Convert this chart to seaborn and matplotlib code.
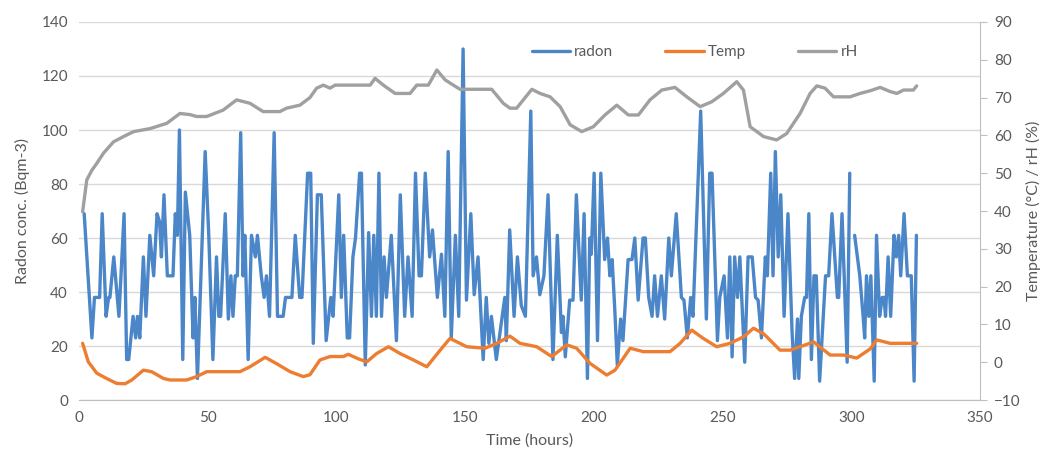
import numpy as np
import pandas as pd
import matplotlib
matplotlib.use("Agg")
import matplotlib.pyplot as plt
import seaborn as sns
from matplotlib.lines import Line2D

# radon readings (hour, Bq/m3), gap of missing data after ~300 h
radon_hours_a = [2, 5, 6, 8, 9, 10.5, 11.5, 12, 13.5, 15.5, 17.5, 18.5, 19.3, 21, 22, 22.7, 23.6,
                 25, 26, 27.5, 29, 30.3, 31.3, 32, 33, 34.3, 36.5, 37.4, 38.2, 39, 40.3, 41.3, 43,
                 44.3, 45, 46, 47.5, 49, 50.4, 52, 53.4, 54.3, 55, 56.8, 58, 59, 59.8, 60.7, 61.5,
                 62.8, 63.7, 64.4, 65.7, 67, 68.5, 69.3, 70.8, 71.9, 72.8, 74, 75.8, 77.1, 79.3,
                 80.2, 82.7, 84, 85.7, 86.6, 88.8, 90, 91, 92.6, 94.1, 96, 97.8, 98.7, 100.9, 101.9,
                 102.8, 104.2, 105.1, 106.4, 107.4, 109, 109.7, 111.2, 112.5, 113.6, 114.5, 115.5,
                 116.5, 117.5, 118.5, 119.4, 121.3, 123.3, 124.8, 126.5, 127.8, 129.4, 130.7, 132.1,
                 133, 134.5, 136.2, 137.3, 139.2, 140.8, 142.1, 143.4, 144.6, 146.2, 147.5, 149.2,
                 150.5, 152.2, 153.5, 155, 157, 158.2, 159.2, 160.2, 162.1, 165.4, 166, 167.3, 169,
                 170.3, 171.8, 173.4, 175.5, 176.4, 177.7, 179, 180.6, 182.2, 184.1, 185.8, 187.4,
                 188, 188.9, 190.6, 191.9, 193.2, 195.1, 196.2, 197.5, 198.4, 199, 200.1, 201.4,
                 202.7, 204.2, 205.3, 206.2, 207.1, 208.1, 209.1, 210.4, 211.3, 213.3, 214.8, 215.9,
                 217.2, 219.1, 220, 221.3, 222.6, 223.6, 224.7, 226.2, 227.5, 229.1, 230.1, 232,
                 234, 235, 236.3, 237.6, 238.5, 241.5, 243.7, 245, 245.9, 248, 248.9, 250.6, 251.9,
                 252.8, 253.7, 254.7, 255.8, 256.7, 258.6, 259.9, 261.5, 262.8, 263.8, 265.1, 266.6,
                 267.4, 268.7, 269.6, 270.5, 271.6, 272.6, 273.9, 275.4, 277, 278, 279.1, 279.6,
                 280.6, 281.9, 282.6, 283.5, 284.5, 285.5, 286.4, 287.7, 290, 291.2, 292.5, 293.6,
                 294.6, 295.1, 296.4, 298.4, 299.4]
radon_vals_a = [69, 23, 38, 38, 69, 31, 38, 38, 53, 31, 69, 15, 15, 31, 23, 31, 23,
                53, 31, 61, 46, 69, 66, 53, 76, 46, 46, 69, 61, 100, 15, 77, 61,
                23, 38, 8, 50, 92, 61, 15, 53, 31, 31, 69, 30, 46, 31, 46, 46,
                99, 46, 61, 15, 61, 53, 61, 46, 38, 46, 31, 99, 31, 31,
                38, 38, 61, 38, 38, 84, 84, 21, 76, 76, 22, 38, 31, 76, 38,
                61, 23, 23, 53, 60, 84, 84, 13, 62, 31, 61, 31,
                84, 31, 53, 38, 61, 22, 76, 31, 53, 31, 84, 46,
                46, 84, 53, 63, 38, 54, 31, 92, 23, 61, 31, 130,
                37, 69, 39, 53, 15, 38, 21, 31, 15, 38, 22, 63, 31,
                53, 35, 31, 107, 46, 53, 39, 46, 76, 15, 61, 25,
                31, 16, 37, 37, 76, 37, 69, 8, 60, 54, 84, 22,
                84, 52, 60, 46, 52, 34, 13, 30, 22, 52, 52, 60,
                37, 60, 60, 38, 31, 46, 31, 46, 30, 60, 46, 69,
                38, 37, 23, 38, 31, 107, 30, 84, 84, 22, 38, 46, 23,
                53, 16, 53, 38, 53, 14, 53, 53, 38, 37, 23, 53,
                46, 84, 46, 92, 53, 76, 31, 69, 25, 8, 30, 8,
                31, 38, 38, 69, 15, 46, 46, 7, 46, 46, 69, 53,
                38, 38, 69, 14, 84]
radon_hours_b = [301.3, 303.3, 304.6, 305.2, 305.9, 306.8, 307.6, 308.9, 309.8, 311, 312, 312.7,
                 313.3, 314.3, 315.3, 316.6, 317.5, 318.4, 319.2, 320.5, 321.8, 323.3, 324.4, 325.3]
radon_vals_b = [61, 46, 31, 23, 46, 31, 46, 7, 61, 31, 38, 38,
                31, 53, 31, 61, 53, 61, 46, 69, 46, 46, 7, 61]

# temperature (degC)
temp_hours = [1.4, 3.6, 6.9, 10.7, 14.6, 17.9, 20.5, 25, 28.2, 32.8, 35.4, 41.8, 45.7, 49.6, 62.5,
              66.4, 72.3, 76.8, 82, 87.1, 89.7, 93.6, 97.5, 102.7, 104.6, 108.5, 111.8, 115.6,
              120.2, 124.7, 129.9, 135.1, 140.3, 144.1, 150.6, 157.7, 162.3, 167.4, 171.3, 177.8,
              183.6, 189.5, 193.3, 198.5, 205, 208.2, 214.1, 219.2, 229.6, 233.5, 238, 242.5,
              247.7, 252.9, 258.1, 262, 266, 272.3, 276.2, 281.4, 285.3, 291.8, 297, 302.1,
              307.3, 309.9, 315.1, 325.4]
temp_vals = [5.0, 0.1, -2.9, -4.3, -5.6, -5.7, -4.7, -2.1, -2.5, -4.3, -4.7, -4.7, -3.8, -2.5, -2.5,
             -1.2, 1.3, -0.4, -2.5, -3.8, -3.3, 0.6, 1.5, 1.5, 2.1, 0.9, 0.1, 2.3,
             4.1, 2.3, 0.6, -1.2, 3.2, 6.3, 4.1, 3.7, 5.0, 6.9, 5.0, 4.1,
             1.5, 4.6, 3.7, -0.3, -3.4, -2.1, 3.7, 2.8, 2.8, 5.0, 8.5, 6.3,
             4.1, 5.0, 6.7, 9.0, 7.5, 3.2, 3.2, 4.4, 5.4, 1.9, 1.9, 1.1,
             3.5, 5.9, 5.0, 5.0]

# relative humidity (%)
rh_hours = [1.4, 3, 5, 6.9, 9.5, 13.4, 17.3, 21.2, 27.6, 34.1, 39.2, 43.1, 45.7, 49.6, 56, 61.2,
            66.4, 71.5, 78, 80.6, 85.8, 89.7, 92.3, 94.9, 97.5, 99.5, 113.1, 115, 118.2, 122.8,
            128.6, 131.2, 135.7, 139, 142.2, 145.4, 148, 160.3, 164.8, 167.4, 170, 175.9, 179.1,
            183, 186.9, 190.8, 195.3, 199.8, 204.3, 208.9, 213.4, 217.3, 221.8, 226.4, 231.5,
            236.1, 241.3, 245.8, 250.3, 255.5, 258.1, 260.7, 265.9, 271, 274.9, 280.1, 284,
            286.6, 289.8, 293.1, 299.5, 303.4, 307.3, 311.2, 315.1, 317.7, 320.3, 324.1, 325.4]
rh_vals = [39.8, 48.2, 50.8, 52.6, 55.3, 58.3, 59.7, 61, 61.8, 63.2, 65.8, 65.5, 65, 65, 66.7, 69.4,
           68.5, 66.3, 66.3, 67.2, 68, 70, 72.5, 73.3, 72.5, 73.3, 73.3, 75.1, 73.3, 71.1,
           71.1, 73.3, 73.3, 77.3, 74.7, 73.3, 72.2, 72.2, 68.5, 67.2, 67.2, 72.2, 71.1,
           70.2, 67.6, 62.8, 61, 62.3, 65.4, 68, 65.4, 65.4, 69.4, 72, 72.7,
           70.2, 67.6, 68.9, 71.1, 74.2, 72, 62.3, 59.7, 58.8, 60.5, 65.8, 71.1,
           73.1, 72.5, 70.2, 70.2, 71.1, 71.8, 72.7, 71.6, 71.1, 72, 72, 73.1]

c_radon = "#4A86C8"
c_temp = "#ED7D31"
c_rh = "#A0A0A0"
grey_txt = "#595959"

sns.set_style("white")
plt.rcParams["font.family"] = ["Lato", "DejaVu Sans"]

fig = plt.figure(figsize=(10.44, 4.63), dpi=100)
ax = fig.add_axes([0.0757, 0.136, 0.863, 0.8165])
ax2 = ax.twinx()

lw = 2.4
sns.lineplot(x=radon_hours_a, y=radon_vals_a, ax=ax, color=c_radon, lw=lw)
sns.lineplot(x=radon_hours_b, y=radon_vals_b, ax=ax, color=c_radon, lw=lw)
sns.lineplot(x=temp_hours, y=temp_vals, ax=ax2, color=c_temp, lw=lw)
sns.lineplot(x=rh_hours, y=rh_vals, ax=ax2, color=c_rh, lw=lw)

ax.set_xlim(0, 350)
ax.set_ylim(0, 140)
ax2.set_ylim(-10, 90)
ax.set_xticks(range(0, 351, 50))
ax.set_yticks(range(0, 141, 20))
ax2.set_yticks(range(-10, 91, 10))

ax.yaxis.grid(True, color="#D9D9D9", lw=1)
ax.set_axisbelow(True)
for a in (ax, ax2):
    for s in ("top", "left"):
        a.spines[s].set_visible(False)
ax.spines["right"].set_visible(False)
ax.spines["bottom"].set_color("#BFBFBF")
ax2.spines["bottom"].set_visible(False)
ax2.spines["right"].set_color("#BFBFBF")

ax.tick_params(axis="both", length=0, labelsize=11, colors=grey_txt, pad=8)
ax2.tick_params(axis="y", length=5, color="#BFBFBF", labelsize=11, labelcolor=grey_txt, pad=5)

ax.set_xlabel("Time (hours)", fontsize=11.5, color=grey_txt, labelpad=6)
ax.set_ylabel("Radon conc. (Bqm-3)", fontsize=11.5, color=grey_txt, labelpad=8)
ax2.set_ylabel("Temperature (\u00b0C) / rH (%)", fontsize=11.5, color=grey_txt, labelpad=4)

handles = [Line2D([], [], color=c_radon, lw=lw),
           Line2D([], [], color=c_temp, lw=lw),
           Line2D([], [], color=c_rh, lw=lw)]
leg = ax2.legend(handles, ["radon", "Temp", "rH"], loc="center left", bbox_to_anchor=(0.487, 0.92),
                 ncol=3, frameon=False, fontsize=11, handlelength=2.5, handletextpad=0.3,
                 columnspacing=3.4)
for t in leg.get_texts():
    t.set_color(grey_txt)

fig.savefig("out.png", dpi=100)
